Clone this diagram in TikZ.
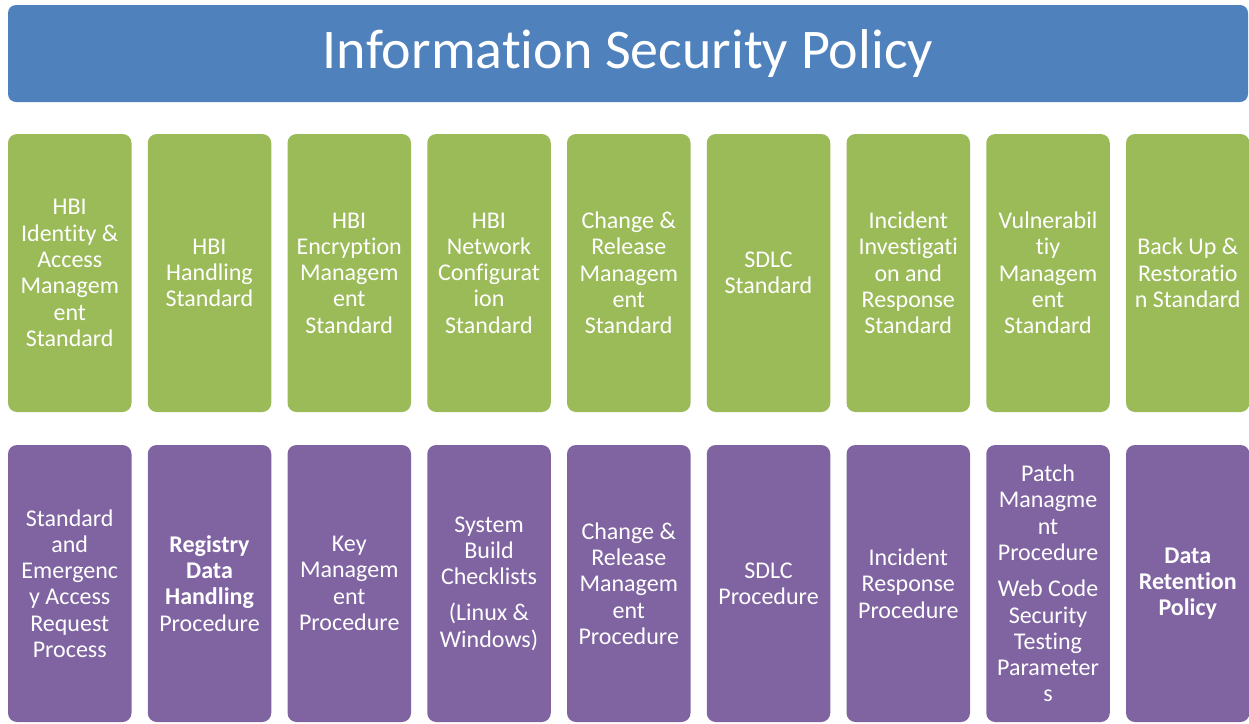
\documentclass[tikz,border=0pt]{standalone}
\usepackage{fontspec}
\setmainfont{Carlito}[Ligatures={NoCommon,NoRequired,NoContextual},Contextuals=NoAlternate]
\newcommand\tiNL{t\kern0pt i}
\definecolor{hdrblue}{HTML}{4F81BD}
\definecolor{stdgreen}{HTML}{9BBB59}
\definecolor{procpurple}{HTML}{8064A2}
\begin{document}
\begin{tikzpicture}[x=1pt,y=-1pt,
  hdr/.style={fill=hdrblue, rounded corners=8pt, minimum width=1240pt, minimum height=97pt,
    inner sep=0pt, text=white, font=\fontsize{56}{66}\selectfont},
  cell/.style={rounded corners=9pt, minimum width=123.5pt, inner sep=0pt, text=white,
    align=center, font=\fontsize{24}{26.3}\selectfont},
  gbox/.style={cell, fill=stdgreen, minimum height=278pt},
  pbox/.style={cell, fill=procpurple, minimum height=277pt}]
\useasboundingbox (0,0) rectangle (1249,723);
\node[hdr] (title) at (628,53.5) {Informa\tiNL{}on Security Policy};
% standards row
\node[gbox] (g1) at (69.75,273) {HBI\\Iden\tiNL{}ty \&\\Access\\Managem\\ent\\Standard};
\node[gbox] (g2) at (209.5,273) {HBI\\Handling\\Standard};
\node[gbox] (g3) at (349.25,273) {HBI\\Encryption\\Managem\\ent\\Standard};
\node[gbox] (g4) at (489,273) {HBI\\Network\\Configurat\\ion\\Standard};
\node[gbox] (g5) at (628.75,273) {Change \&\\Release\\Managem\\ent\\Standard};
\node[gbox] (g6) at (768.5,273) {SDLC\\Standard};
\node[gbox] (g7) at (908.25,273) {Incident\\Inves\tiNL{}ga\tiNL{}\\on and\\Response\\Standard};
\node[gbox] (g8) at (1048,273) {Vulnerabil\\\tiNL{}y\\Managem\\ent\\Standard};
\node[gbox] (g9) at (1187.75,273) {Back Up \&\\Restora\tiNL{}o\\n Standard};
% procedures row
\node[pbox] (p1) at (69.75,583.5) {Standard\\and\\Emergenc\\y Access\\Request\\Process};
\node[pbox] (p2) at (209.5,583.5) {\textbf{Registry}\\\textbf{Data}\\\textbf{Handling}\\Procedure};
\node[pbox] (p3) at (349.25,583.5) {Key\\Managem\\ent\\Procedure};
\node[pbox] (p4) at (489,583.5) {System\\Build\\Checklists\\[10pt](Linux \&\\Windows)};
\node[pbox] (p5) at (628.75,583.5) {Change \&\\Release\\Managem\\ent\\Procedure};
\node[pbox] (p6) at (768.5,583.5) {SDLC\\Procedure};
\node[pbox] (p7) at (908.25,583.5) {Incident\\Response\\Procedure};
\node[pbox] (p8) at (1048,583.5) {Patch\\Managme\\nt\\Procedure\\[10pt]Web Code\\Security\\Tes\tiNL{}ng\\Parameter\\s};
\node[pbox] (p9) at (1187.75,583.5) {\textbf{Data}\\\textbf{Reten\tiNL{}on}\\\textbf{Policy}};
\end{tikzpicture}
\end{document}
